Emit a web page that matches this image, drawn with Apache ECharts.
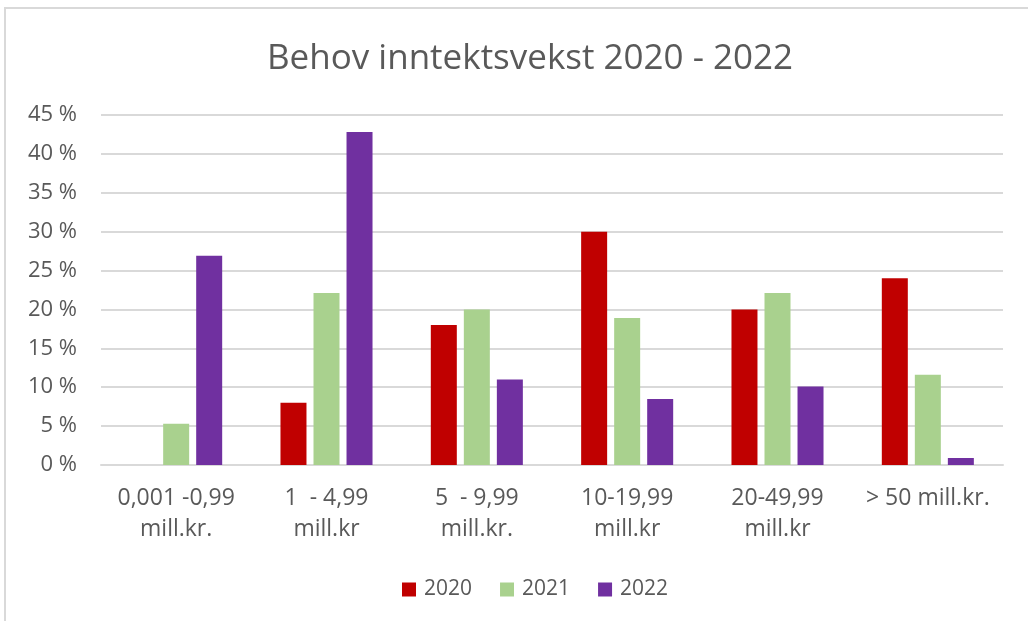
<!DOCTYPE html>
<html>
<head>
<meta charset="utf-8">
<script src="https://cdn.jsdelivr.net/npm/echarts@6/dist/echarts.min.js"></script>
<style>
  html, body { margin: 0; padding: 0; background: #fff; }
  #frame {
    position: absolute; left: 4px; top: 7px; width: 1030px; height: 620px;
    border: 2px solid #d9d9d9; box-sizing: border-box;
  }
  #chart { position: absolute; left: 0; top: 0; width: 1028px; height: 621px; }
</style>
</head>
<body>
<div id="frame"></div>
<div id="chart"></div>
<script>
const categories = [
  '0,001 -0,99\nmill.kr.',
  '1  - 4,99\nmill.kr',
  '5  - 9,99\nmill.kr.',
  '10-19,99\nmill.kr',
  '20-49,99\nmill.kr',
  '> 50 mill.kr.'
]
const years = ['2020', '2021', '2022']
const values2020 = [0, 8, 18, 30, 20, 24]
const values2021 = [5.3, 22.1, 20, 18.9, 22.1, 11.6]
const values2022 = [26.9, 42.8, 11, 8.5, 10.1, 0.9]
const colors = ['#C00000', '#A9D18E', '#7030A0']

const font = "'Open Sans', sans-serif"
const chart = echarts.init(document.getElementById('chart'))

const makeSeries = (name, data, color) => ({
  name: name,
  type: 'bar',
  data: data,
  barWidth: 26,
  barGap: '27%',
  itemStyle: { color: color },
  emphasis: { disabled: true }
})

chart.setOption({
  animation: false,
  textStyle: { fontFamily: font },
  title: {
    text: 'Behov inntektsvekst 2020 - 2022',
    left: 262,
    top: 37,
    textStyle: { fontSize: 35, fontWeight: 'normal', color: '#595959', fontFamily: font }
  },
  legend: {
    data: years,
    bottom: 16,
    left: 397,
    itemWidth: 14,
    itemHeight: 14,
    itemGap: 28,
    icon: 'rect',
    textStyle: { fontSize: 21, color: '#595959', fontFamily: font, padding: [0, 0, 0, 3] }
  },
  grid: { left: 101, right: 25, top: 115, bottom: 156 },
  xAxis: {
    type: 'category',
    data: categories,
    axisLine: { lineStyle: { color: '#d9d9d9', width: 2 } },
    axisTick: { show: false },
    axisLabel: {
      fontSize: 23, color: '#595959', lineHeight: 31, margin: 18,
      interval: 0, fontFamily: font
    }
  },
  yAxis: {
    type: 'value',
    min: 0,
    max: 45,
    interval: 5,
    axisLine: { show: false },
    axisTick: { show: false },
    splitLine: { lineStyle: { color: '#d9d9d9', width: 2 } },
    axisLabel: {
      fontSize: 22, color: '#595959', margin: 24, fontFamily: font,
      formatter: '{value} %'
    }
  },
  series: [
    makeSeries(years[0], values2020, colors[0]),
    makeSeries(years[1], values2021, colors[1]),
    makeSeries(years[2], values2022, colors[2])
  ]
})
</script>
</body>
</html>
